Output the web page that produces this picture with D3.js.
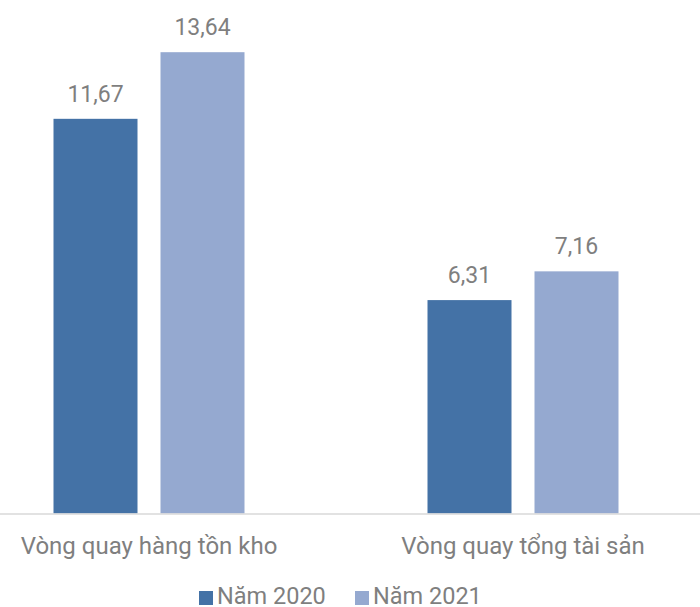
<!DOCTYPE html>
<html>
<head>
<meta charset="utf-8">
<script src="https://cdn.jsdelivr.net/npm/d3@7"></script>
<style>
  html, body { margin: 0; padding: 0; background: #fff; }
  svg { display: block; font-family: Roboto, "Noto Sans", sans-serif; }
</style>
</head>
<body>
<svg id="chart" width="700" height="607"></svg>
<script>
// Turnover ratios, 2020 vs 2021
const categories = ["Vòng quay hàng tồn kho", "Vòng quay tổng tài sản"];
const seriesNames = ["Năm 2020", "Năm 2021"];
const values2020 = [11.67, 6.31];
const values2021 = [13.64, 7.16];
const seriesValues = [values2020, values2021];
const colors = ["#4472a6", "#95a9d0"];

const fmt = v => v.toFixed(2).replace(".", ",");

const svg = d3.select("#chart");
const baseY = 513.5;
const pxPerUnit = 33.82;
const yMax = 16;

const y = d3.scaleLinear().domain([0, yMax]).range([baseY, baseY - yMax * pxPerUnit]);
const x0 = d3.scaleBand().domain(categories).range([-38, 710]).padding(0);
const groupW = 191;
const x1 = d3.scaleBand().domain(seriesNames).range([0, groupW]).paddingInner(23 / 107).paddingOuter(0);
const groupOffset = (x0.bandwidth() - groupW) / 2;

const rows = categories.map((c, i) => ({
  cat: c,
  items: seriesNames.map((s, j) => ({ series: s, value: seriesValues[j][i], color: colors[j] }))
}));

const groups = svg.selectAll("g.group")
  .data(rows)
  .join("g")
  .attr("class", "group")
  .attr("transform", d => `translate(${x0(d.cat) + groupOffset},0)`);

groups.selectAll("rect")
  .data(d => d.items)
  .join("rect")
  .attr("x", d => x1(d.series))
  .attr("y", d => y(d.value))
  .attr("width", x1.bandwidth())
  .attr("height", d => baseY - y(d.value))
  .attr("fill", d => d.color);

groups.selectAll("text.val")
  .data(d => d.items)
  .join("text")
  .attr("class", "val")
  .attr("x", d => x1(d.series) + x1.bandwidth() / 2)
  .attr("y", d => y(d.value) - 17)
  .attr("text-anchor", "middle")
  .attr("font-size", 23)
  .attr("fill", "#7f7f7f")
  .text(d => fmt(d.value));

// category axis line
svg.append("line")
  .attr("x1", 0).attr("x2", 700)
  .attr("y1", baseY + 0.5).attr("y2", baseY + 0.5)
  .attr("stroke", "#d9d9d9")
  .attr("stroke-width", 1.5);

// category labels
svg.selectAll("text.cat")
  .data(categories)
  .join("text")
  .attr("class", "cat")
  .attr("x", d => x0(d) + x0.bandwidth() / 2)
  .attr("y", 553.5)
  .attr("text-anchor", "middle")
  .attr("font-size", 24)
  .attr("fill", "#7f7f7f")
  .text(d => d);

// legend
const legendX = [199, 355];
const legend = svg.selectAll("g.legend")
  .data(seriesNames)
  .join("g")
  .attr("class", "legend")
  .attr("transform", (d, i) => `translate(${legendX[i]},0)`);

legend.append("rect")
  .attr("x", 0).attr("y", 591)
  .attr("width", 14).attr("height", 14)
  .attr("fill", (d, i) => colors[i]);

legend.append("text")
  .attr("x", 18).attr("y", 603.5)
  .attr("font-size", 23.5)
  .attr("fill", "#7f7f7f")
  .text(d => d);
</script>
</body>
</html>
